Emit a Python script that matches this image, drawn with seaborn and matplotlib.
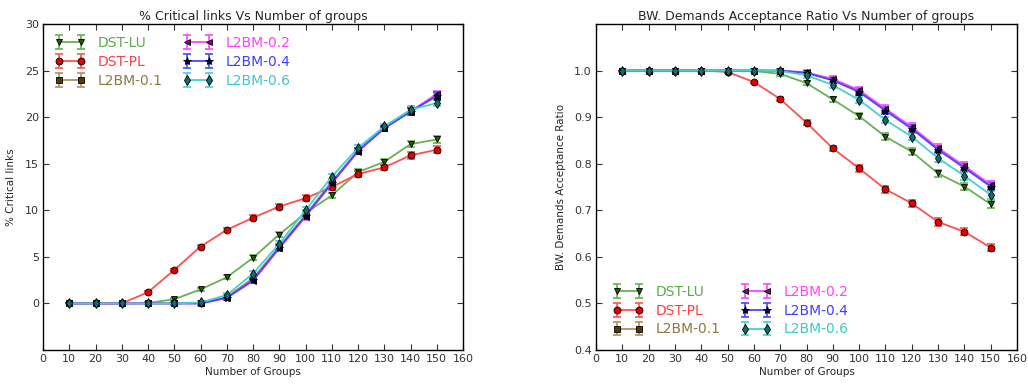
import matplotlib
matplotlib.use("Agg")
import matplotlib.pyplot as plt
import matplotlib.lines as mlines
from matplotlib.legend_handler import HandlerTuple
import seaborn as sns
import pandas as pd

groups = [10, 20, 30, 40, 50, 60, 70, 80, 90, 100, 110, 120, 130, 140, 150]
series_names = ["DST-LU", "DST-PL", "L2BM-0.1", "L2BM-0.2", "L2BM-0.4", "L2BM-0.6"]

crit_dst_lu = [0, 0, 0, 0.05, 0.45, 1.5, 2.8, 4.9, 7.4, 9.7, 11.6, 14.1, 15.2, 17.1, 17.6]
crit_dst_pl = [0, 0, 0, 1.2, 3.6, 6.1, 7.9, 9.2, 10.4, 11.3, 12.5, 13.9, 14.6, 15.9, 16.5]
crit_l2bm_01 = [0, 0, 0, 0, 0, 0.05, 0.7, 2.7, 6.1, 9.5, 13.1, 16.4, 18.8, 20.7, 22.2]
crit_l2bm_02 = [0, 0, 0, 0, 0, 0.0, 0.6, 2.4, 5.9, 9.3, 12.9, 16.3, 18.8, 20.6, 22.5]
crit_l2bm_04 = [0, 0, 0, 0, 0, 0.0, 0.6, 2.5, 6.0, 9.4, 12.9, 16.4, 18.8, 20.6, 22.3]
crit_l2bm_06 = [0, 0, 0, 0, 0, 0.1, 0.9, 3.2, 6.4, 10.0, 13.6, 16.7, 19.0, 20.8, 21.5]
crit_err = [0, 0, 0, 0.1, 0.15, 0.2, 0.2, 0.25, 0.25, 0.3, 0.3, 0.3, 0.3, 0.35, 0.35]

bw_dst_lu = [1.0, 1.0, 1.0, 1.0, 1.0, 0.999, 0.993, 0.973, 0.938, 0.902, 0.858, 0.826, 0.779, 0.751, 0.713]
bw_dst_pl = [1.0, 1.0, 1.0, 1.0, 0.997, 0.9755, 0.939, 0.888, 0.833, 0.790, 0.745, 0.715, 0.675, 0.654, 0.620]
bw_l2bm_01 = [1.0, 1.0, 1.0, 1.0, 1.0, 1.0, 0.999, 0.995, 0.980, 0.955, 0.915, 0.876, 0.831, 0.793, 0.752]
bw_l2bm_02 = [1.0, 1.0, 1.0, 1.0, 1.0, 1.0, 1.0, 0.996, 0.982, 0.958, 0.918, 0.879, 0.834, 0.795, 0.755]
bw_l2bm_04 = [1.0, 1.0, 1.0, 1.0, 1.0, 1.0, 1.0, 0.995, 0.979, 0.954, 0.914, 0.875, 0.830, 0.791, 0.751]
bw_l2bm_06 = [1.0, 1.0, 1.0, 1.0, 1.0, 1.0, 0.999, 0.990, 0.969, 0.937, 0.894, 0.858, 0.812, 0.774, 0.733]
bw_err = [0, 0, 0, 0, 0.002, 0.003, 0.004, 0.005, 0.006, 0.007, 0.007, 0.008, 0.008, 0.008, 0.008]

line_colors = ["#6aaf55", "#ff5050", "#a89460", "#ff44ff", "#4848ff", "#48d0d0"]
text_colors = ["#5caa48", "#ff4040", "#8c7a40", "#ff40ff", "#4040ff", "#40c8c8"]
face_colors = ["#1d5e0c", "#e00000", "#4d3d0a", "#6a1a6a", "#000050", "#1a6a6a"]
markers = ["v", "o", "s", "<", "*", "d"]
msizes = [5, 5, 5, 5, 6, 5]

sns.set_style("ticks")
plt.rcParams.update({
    "font.family": ["DejaVu Sans"],
    "xtick.direction": "in", "ytick.direction": "in",
    "xtick.top": True, "ytick.right": True,
    "xtick.major.size": 4, "ytick.major.size": 4,
    "xtick.major.width": 0.8, "ytick.major.width": 0.8,
    "axes.edgecolor": "black", "axes.linewidth": 1.0,
    "xtick.color": "#333333", "ytick.color": "#333333",
})

fig = plt.figure(figsize=(10.28, 3.85), dpi=100)
ax1 = fig.add_axes([43 / 1028, 35 / 385, 420 / 1028, 326 / 385])
ax2 = fig.add_axes([596 / 1028, 35 / 385, 421 / 1028, 326 / 385])


def draw(ax, values_list, err, **legkw):
    handles = []
    for i, (name, vals) in enumerate(zip(series_names, values_list)):
        df = pd.DataFrame({"x": groups, "y": vals})
        sns.lineplot(data=df, x="x", y="y", ax=ax, color=line_colors[i], lw=1.3,
                     marker=markers[i], markersize=msizes[i],
                     markerfacecolor=face_colors[i], markeredgecolor="black",
                     markeredgewidth=0.6, legend=False, zorder=3 + i * 0.1)
        ec = ax.errorbar(groups, vals, yerr=err, fmt="none", ecolor=line_colors[i],
                         elinewidth=1.2, capsize=3, capthick=1.2, zorder=2)
        proxy = mlines.Line2D([], [], color=line_colors[i], lw=1.3, marker=markers[i],
                              markersize=msizes[i],
                              markerfacecolor=face_colors[i], markeredgecolor="black",
                              markeredgewidth=0.6)
        handles.append((ec, proxy))
    leg = ax.legend(handles, series_names, handler_map={tuple: HandlerTuple(ndivide=1, pad=0)},
                    ncol=2, frameon=False, fontsize=10, numpoints=2,
                    handlelength=2.2, columnspacing=1.5, labelspacing=0.35,
                    handletextpad=0.85, **legkw)
    for t, c in zip(leg.get_texts(), text_colors):
        t.set_color(c)
    ax.set_xlim(0, 160)
    ax.set_xticks(range(0, 161, 10))
    ax.tick_params(labelsize=8, pad=3)
    for s in ax.spines.values():
        s.set_visible(True)
        s.set_color("black")
    return leg


draw(ax1, [crit_dst_lu, crit_dst_pl, crit_l2bm_01, crit_l2bm_02, crit_l2bm_04, crit_l2bm_06],
     crit_err, loc="upper left", borderaxespad=0.45)
ax1.set_ylim(-5, 30)
ax1.set_yticks([0, 5, 10, 15, 20, 25, 30])
ax1.set_title("% Critical links Vs Number of groups", fontsize=9, pad=3)
ax1.set_xlabel("Number of Groups", fontsize=7.5, labelpad=2)
ax1.set_ylabel("% Critical links", fontsize=7.5, labelpad=6)

draw(ax2, [bw_dst_lu, bw_dst_pl, bw_l2bm_01, bw_l2bm_02, bw_l2bm_04, bw_l2bm_06],
     bw_err, loc="lower left", borderaxespad=0.3, bbox_to_anchor=(0.017, 0.012))
ax2.set_ylim(0.4, 1.1)
ax2.set_yticks([0.4, 0.5, 0.6, 0.7, 0.8, 0.9, 1.0])
ax2.set_yticklabels(["0.4", "0.5", "0.6", "0.7", "0.8", "0.9", "1.0"])
ax2.set_title("BW. Demands Acceptance Ratio Vs Number of groups", fontsize=9, pad=3)
ax2.set_xlabel("Number of Groups", fontsize=7.5, labelpad=2)
ax2.set_ylabel("BW. Demands Acceptance Ratio", fontsize=7.5, labelpad=6)

fig.savefig("out.png", dpi=100, facecolor="white")
